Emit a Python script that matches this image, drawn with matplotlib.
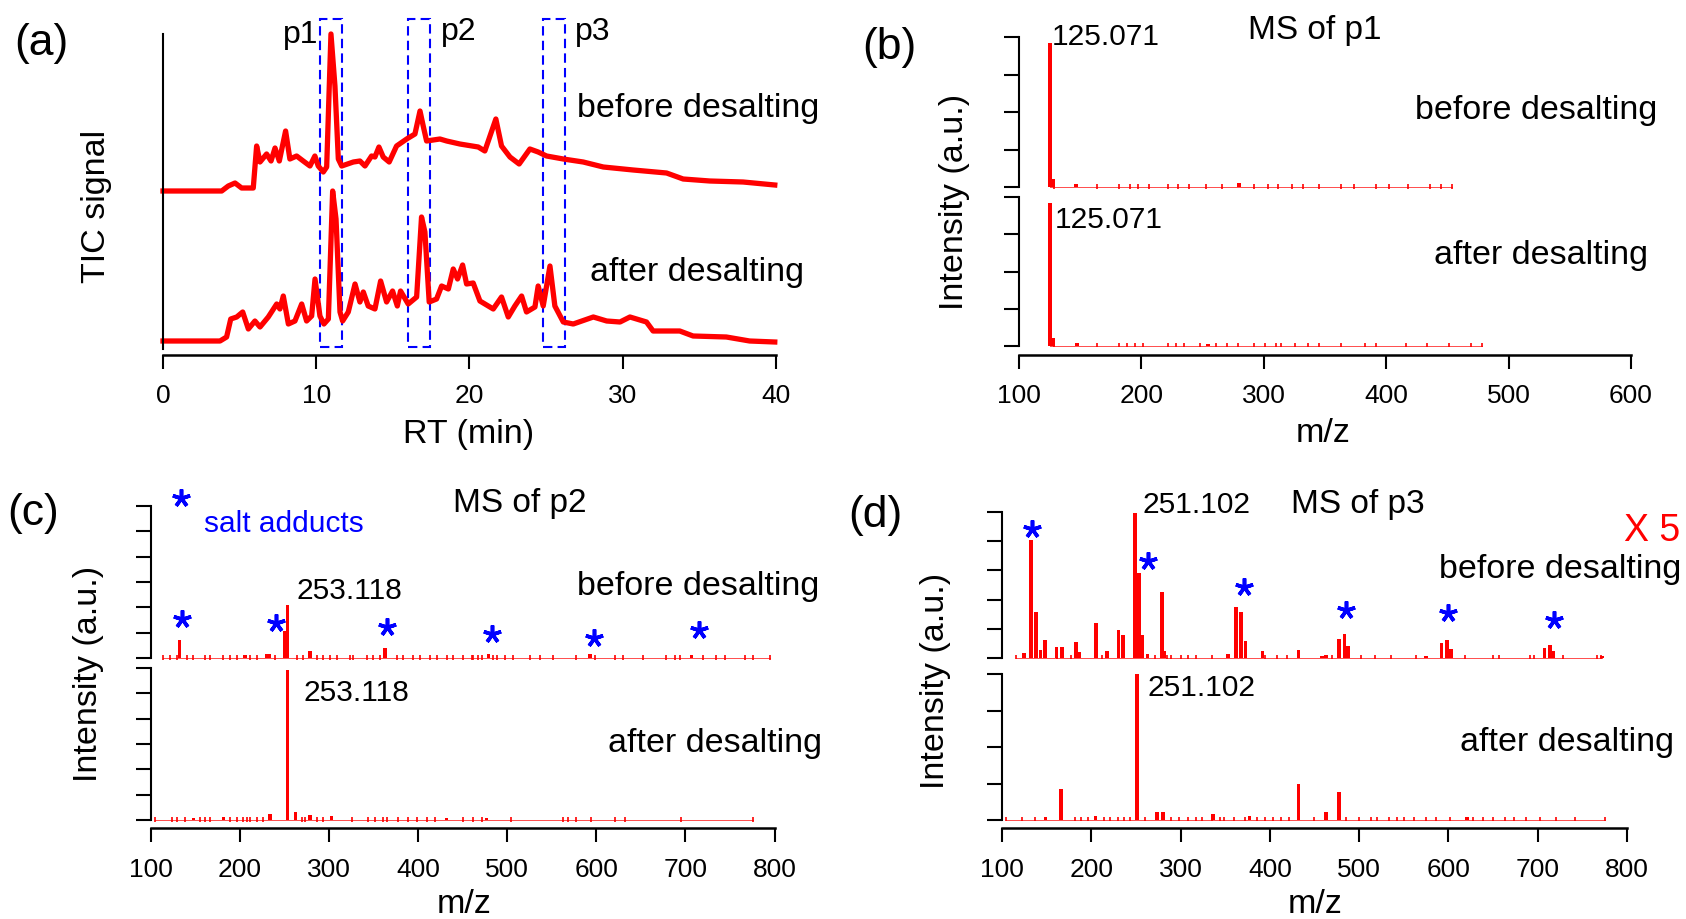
import matplotlib
matplotlib.use("Agg")
import matplotlib.pyplot as plt
from matplotlib.patches import Rectangle

plt.rcParams['font.family'] = ['Liberation Sans', 'DejaVu Sans']

# ---- (a) TIC traces: retention time (min) and signal height (a.u.)
rt_before = [0, 3.83, 4.26, 4.70, 5.13, 5.89, 6.11, 6.33, 6.76, 7.05, 7.31, 7.59, 8.00, 8.28, 8.72,
             9.15, 9.59, 9.91, 10.13, 10.46, 10.68, 10.96, 11.22, 11.44, 11.66, 12.42, 12.85, 13.18,
             13.61, 13.83, 14.09, 14.37, 14.76, 15.24, 15.90, 16.44, 16.77, 16.98, 17.20, 17.63,
             18.07, 18.51, 19.37, 20.57, 21.00, 21.72, 22.09, 22.64, 23.24, 23.94, 24.48, 25.03,
             26.12, 27.42, 28.73, 30.68, 32.86, 33.94, 35.68, 37.85, 39.92]
tic_before = [158, 158, 163, 166, 161, 161, 203, 187, 195, 188, 201, 188, 218, 190, 193,
              188, 183, 193, 183, 177, 182, 315, 263, 190, 183, 187, 188, 183,
              193, 192, 202, 192, 187, 203, 210, 215, 238, 223, 208, 209,
              210, 208, 205, 202, 198, 230, 203, 192, 185, 200, 197, 193,
              190, 187, 182, 179, 176, 170, 168, 167, 164]
rt_after = [0, 3.72, 4.15, 4.42, 4.81, 5.20, 5.57, 6.00, 6.33, 6.87, 7.42, 7.63, 7.85, 8.18, 8.61,
            9.05, 9.37, 9.70, 9.92, 10.24, 10.50, 10.79, 11.07, 11.29, 11.55, 11.72, 12.09, 12.53,
            12.85, 13.07, 13.39, 13.83, 14.20, 14.59, 14.98, 15.29, 15.50, 16.00, 16.55, 16.87,
            17.09, 17.37, 17.85, 18.18, 18.62, 18.94, 19.22, 19.55, 19.81, 20.24, 20.68, 21.55,
            22.09, 22.53, 22.96, 23.40, 23.72, 24.27, 24.48, 24.81, 25.25, 25.57, 26.12, 26.77,
            28.08, 28.95, 29.82, 30.47, 31.55, 31.98, 33.72, 34.59, 36.76, 38.28, 39.92]
tic_after = [8, 8, 12, 30, 32, 37, 20, 28, 22, 32, 45, 40, 53, 25, 28,
             45, 28, 33, 70, 33, 25, 30, 158, 130, 37, 28, 37, 65,
             47, 57, 43, 40, 68, 47, 58, 43, 58, 45, 52, 132,
             117, 47, 50, 63, 60, 80, 70, 84, 65, 66, 48, 40,
             52, 32, 43, 53, 37, 42, 63, 43, 83, 43, 27, 25,
             32, 28, 27, 32, 27, 18, 18, 13, 12, 8, 7]
peak_names = ['p1', 'p2', 'p3']
peak_windows = [(10.24, 11.66), (16.0, 17.42), (24.81, 26.22)]

# ---- (b) MS of p1 (m/z, relative intensity %)
b_before_mz = [125.071, 127.5, 146.4, 279.8]
b_before_int = [96, 5.5, 2, 3]
b_before_noise = [128.7, 164, 181.7, 190.5, 197.2, 206, 221.5, 230.3, 239.1, 252.4, 265.6,
                  292.1, 303.2, 312, 323.1, 331.9, 345.1, 362.8, 373.9, 391.5, 402.6, 418,
                  435.7, 444.5, 453.4]
b_after_mz = [125.071, 127.5, 147.2, 254.7]
b_after_int = [96, 5.5, 2.2, 1.5]
b_after_noise = [128.7, 164, 181.7, 188.4, 195, 201.6, 221.5, 228.1, 234.8, 248, 261.3, 270.1,
                 279, 292.2, 301, 309.9, 314.3, 325.4, 336.4, 345.3, 363, 382.8, 391.7, 416,
                 433.7, 451.3, 469, 477.9]

# ---- (c) MS of p2
c_before_mz = [132, 205.6, 229.9, 233, 250, 253.118, 278.5, 362.6, 479, 593, 707]
c_before_int = [11.6, 2.2, 2.6, 2.9, 17.5, 34.6, 4.4, 6.8, 2.5, 2.4, 1.8]
c_before_noise = [114, 121.5, 129, 140.2, 147.7, 160.7, 166.4, 181.3, 188.8, 196.3, 211.2,
                  218.7, 239.3, 263.6, 271, 286, 293.5, 300.9, 308.4, 323.4, 327.1, 342.1,
                  349.6, 357, 375.7, 383.2, 394.4, 401.9, 413.1, 420.6, 431.8, 439.3, 450.5,
                  459.9, 461.7, 467.3, 471.1, 484.2, 487.9, 497.3, 506.6, 525.3, 536.5, 551.5,
                  577.6, 598.2, 620.6, 630, 652.4, 678.6, 688, 693.6, 719.7, 734.7, 744,
                  766.5, 775.8, 794.5]
c_before_stars = [134.5, 240.6, 364.9, 483.1, 597.8, 714.7]
c_before_star_y = [25.9, 23, 20.4, 16, 13.4, 18.2]
c_after_mz = [147.7, 181.3, 233.6, 253.118, 262.4, 278.5, 302.8, 431.8, 476.7]
c_after_int = [1.2, 2, 3.9, 99, 5, 3, 2.9, 1.2, 1.5]
c_after_noise = [104.7, 123.4, 129, 138.3, 155.1, 160.7, 166.4, 188.8, 196.3, 203.7, 207.5,
                 211.2, 218.7, 226.2, 269.2, 272.9, 286, 293.5, 325.3, 344, 351.4, 360.8,
                 364.5, 377.6, 388.8, 398.2, 409.4, 418.7, 450.5, 461.7, 471.1, 504.7, 562.7,
                 568.3, 577.6, 594.5, 620.6, 631.9, 695.4, 775.8]

# ---- (d) MS of p3 (before desalting shown x5)
d_before_mz = [124.8, 132.6, 138.1, 142.9, 148.3, 161, 167, 182.7, 187, 205.1, 217.8, 230.5,
               235.3, 249, 253.5, 257, 263, 279.3, 281.8, 353.4, 362, 367.5, 372.9, 391.7,
               432.1, 458.4, 463, 477.4, 483.5, 487.7, 574.9, 592.2, 598.2, 603.1, 707.6,
               713.6, 717.9, 772.2]
d_before_int = [3.6, 80.7, 31.4, 5.7, 12, 7.5, 7.5, 10.9, 4, 23.9, 4.5, 19.3,
                15.5, 99.5, 58, 15.9, 3, 45.5, 5, 2.5, 34.8, 31.4, 11.6, 4.8,
                5.2, 1.5, 1.8, 13.2, 16.6, 8, 1.5, 10.5, 12, 5.9, 6.8,
                8.6, 4.8, 1.1]
d_before_noise = [116, 161.6, 177.6, 211.9, 271.2, 284.9, 289.5, 300.9, 307.8, 316.9, 335.2,
                  394.5, 408.2, 419.6, 469.9, 501.8, 517.8, 536, 563.4, 618.2, 650.2, 657.1,
                  691.3, 695.9, 727.8, 766.6, 771.2]
d_before_stars = [133.8, 263.7, 371, 485, 600, 718]
d_before_star_y = [88.2, 66.6, 48.8, 33, 30.7, 26.1]
d_after_mz = [148.9, 165.8, 204.5, 251.102, 273.3, 280, 336.1, 377.2, 432.1, 463, 477.4, 621.1]
d_after_int = [2.3, 21.2, 3, 100, 5.7, 5.7, 4.1, 2.5, 24.7, 5.3, 19.4, 1.8]
d_after_noise = [104.6, 122.8, 136.5, 182.2, 189, 195.9, 214.2, 221, 230.1, 237, 243.8, 259.8,
                 289.5, 298.6, 307.8, 316.9, 323.7, 335.2, 344.3, 348.9, 360.3, 371.7, 385.4,
                 394.5, 403.6, 412.8, 421.9, 449.3, 485.8, 499.5, 513.2, 520.1, 533.8, 542.9,
                 549.8, 561.2, 574.9, 586.3, 602.3, 627.4, 638.8, 650.2, 663.9, 673, 686.7,
                 702.7, 721, 741.5, 775.8]

NOISE = 2.0
RED = '#ff0000'
BLUE = '#0000ff'

W, H = 1686, 920
fig = plt.figure(figsize=(W / 100, H / 100), dpi=100)


def box(l, t, r, b):
    return [l / W, 1 - b / H, (r - l) / W, (b - t) / H]


def ftext(x, y, s, size=24.5, **kw):
    kw.setdefault('va', 'center')
    kw.setdefault('ha', 'left')
    fig.text(x / W, 1 - y / H, s, fontsize=size, **kw)


def style_xaxis(ax, ticks, offset, pad):
    ax.spines['bottom'].set_position(('outward', offset))
    ax.spines['bottom'].set_linewidth(1.8)
    ax.set_xticks(ticks)
    ax.tick_params(axis='x', direction='out', length=10, width=1.5, labelsize=19, pad=pad)


def spectrum(ax, mz, inten, noise, xlim, nticks, width, bottom):
    ax.set_xlim(*xlim)
    ax.set_ylim(0, 100)
    for s in ['top', 'right']:
        ax.spines[s].set_visible(False)
    ax.spines['left'].set_linewidth(1.5)
    ax.set_yticks([100 * i / (nticks - 1) for i in range(nticks)])
    ax.set_yticklabels([])
    ax.tick_params(axis='y', direction='out', length=11, width=1.5)
    if not bottom:
        ax.spines['bottom'].set_visible(False)
        ax.set_xticks([])
    ax.plot([min(noise + mz), max(noise + mz)], [0, 0], color=RED, lw=0.7, alpha=0.7,
            clip_on=False)
    ax.vlines(noise, -NOISE / 2, NOISE, color=RED, lw=1.2, clip_on=False)
    ax.bar(mz, inten, width=width, color=RED, linewidth=0, clip_on=False)


# ---------------- panel (a)
ax = fig.add_axes(box(163, 35, 776, 350))
ax.plot(rt_before, tic_before, color=RED, lw=3.8, clip_on=False, solid_joinstyle='round')
ax.plot(rt_after, tic_after, color=RED, lw=3.8, clip_on=False, solid_joinstyle='round')
for (x0, x1) in peak_windows:
    ax.add_patch(Rectangle((x0, 2.5), x1 - x0, 327.5, fill=False, edgecolor=BLUE, lw=1.5,
                           linestyle=(0, (4.5, 2.5)), clip_on=False))
ax.set_xlim(0, 40)
ax.set_ylim(0, 315)
ax.spines['top'].set_visible(False)
ax.spines['right'].set_visible(False)
ax.spines['left'].set_linewidth(1.5)
ax.set_yticks([])
style_xaxis(ax, [0, 10, 20, 30, 40], 4, 10.5)

ftext(14, 44, '(a)', size=32)
ftext(318, 35, 'p1', size=23, ha='right')
ftext(441, 32, 'p2', size=23)
ftext(575, 32, 'p3', size=23)
ftext(577, 109, 'before desalting')
ftext(590.5, 272, 'after desalting')
ftext(97, 206, 'TIC signal', ha='center', rotation=90)
ftext(469, 434, 'RT (min)', ha='center')

# ---------------- panel (b)
bt = fig.add_axes(box(1019, 38, 1631, 188))
spectrum(bt, b_before_mz, b_before_int, b_before_noise, (100, 600), 5, 3.5, False)
bb = fig.add_axes(box(1019, 198, 1631, 347))
spectrum(bb, b_after_mz, b_after_int, b_after_noise, (100, 600), 5, 3.5, True)
style_xaxis(bb, [100, 200, 300, 400, 500, 600], 6.3, 10.5)

ftext(862, 47.5, '(b)', size=32)
ftext(1052, 37, '125.071', size=21.5)
ftext(1054.5, 220.5, '125.071', size=21.5)
ftext(1248, 30, 'MS of p1', size=24)
ftext(1414.7, 110, 'before desalting')
ftext(1433.6, 256, 'after desalting')
ftext(955, 202, 'Intensity (a.u.)', ha='center', rotation=90)
ftext(1323, 434, 'm/z', ha='center')

# ---------------- panel (c)
ct = fig.add_axes(box(151, 507, 774.5, 659))
spectrum(ct, c_before_mz, c_before_int, c_before_noise, (100, 800), 7, 4, False)
ct.plot(c_before_stars, c_before_star_y, ls='none', marker=(5, 2, 0), ms=13, mew=2.6,
        color=BLUE, clip_on=False)
cb = fig.add_axes(box(151, 669, 774.5, 821))
spectrum(cb, c_after_mz, c_after_int, c_after_noise, (100, 800), 7, 4, True)
style_xaxis(cb, [100, 200, 300, 400, 500, 600, 700, 800], 5.8, 10.5)

ftext(7, 513.5, '(c)', size=32)
ct.plot([0.048], [1.05], transform=ct.transAxes, ls='none', marker=(5, 2, 0), ms=13,
        mew=2.6, color=BLUE, clip_on=False)
ftext(204, 524, 'salt adducts', size=21.5, color=BLUE)
ftext(453, 504, 'MS of p2', size=24)
ftext(296, 591, '253.118', size=21.5)
ftext(577, 586, 'before desalting')
ftext(303.5, 693, '253.118', size=21.5)
ftext(608, 744, 'after desalting')
ftext(89, 674, 'Intensity (a.u.)', ha='center', rotation=90)
ftext(464, 905, 'm/z', ha='center')

# ---------------- panel (d)
dt = fig.add_axes(box(1002, 513, 1627, 659))
spectrum(dt, d_before_mz, d_before_int, d_before_noise, (100, 800), 6, 4, False)
dt.plot(d_before_stars, d_before_star_y, ls='none', marker=(5, 2, 0), ms=13, mew=2.6,
        color=BLUE, clip_on=False)
db = fig.add_axes(box(1002, 675, 1627, 821))
spectrum(db, d_after_mz, d_after_int, d_after_noise, (100, 800), 5, 4, True)
style_xaxis(db, [100, 200, 300, 400, 500, 600, 700, 800], 5.8, 10.5)

ftext(848, 515, '(d)', size=32)
ftext(1142.6, 505.5, '251.102', size=21.5)
ftext(1291, 505, 'MS of p3', size=24)
ftext(1624, 531, 'X 5', size=27, color=RED)
ftext(1439, 570, 'before desalting')
ftext(1147.5, 688, '251.102', size=21.5)
ftext(1459.5, 742.5, 'after desalting')
ftext(935, 681, 'Intensity (a.u.)', ha='center', rotation=90)
ftext(1315, 905, 'm/z', ha='center')

fig.savefig('out.png', dpi=100)
